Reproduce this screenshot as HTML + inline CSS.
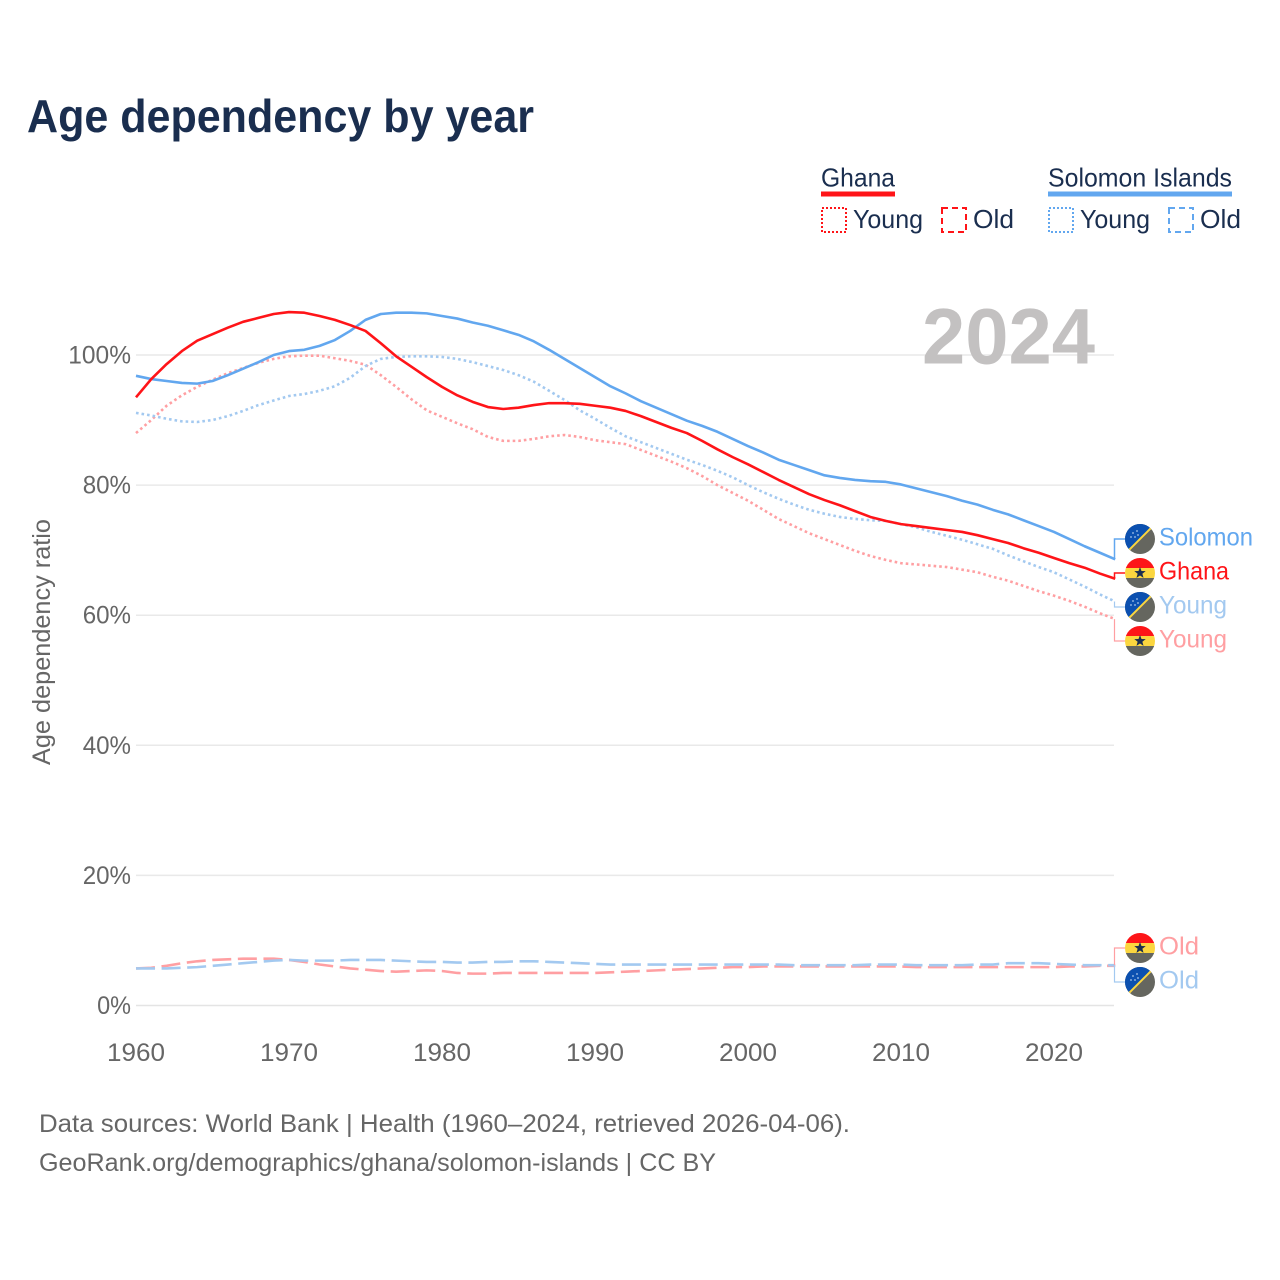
<!DOCTYPE html>
<html lang="en">
<head>
<meta charset="utf-8">
<title>Age dependency by year</title>
<style>
html,body{margin:0;padding:0;background:#fff;}
svg{display:block;font-family:"Liberation Sans",sans-serif;}
</style>
</head>
<body>
<svg id="chart" xmlns="http://www.w3.org/2000/svg" width="1280" height="1280" viewBox="0 0 1280 1280">
<rect width="1280" height="1280" fill="#fff"/>
<text x="27" y="132" font-size="46" font-weight="700" fill="#1a2e4f" textLength="507" lengthAdjust="spacingAndGlyphs">Age dependency by year</text>

<g font-size="26" fill="#1a2e4f">
<text x="821" y="186.5" textLength="74" lengthAdjust="spacingAndGlyphs">Ghana</text>
<rect x="821" y="191.5" width="74" height="5" fill="#ff1418"/>
<rect x="822" y="208" width="24" height="24" fill="none" stroke="#ff1418" stroke-width="2" stroke-dasharray="2 2"/>
<text x="853" y="228" textLength="70" lengthAdjust="spacingAndGlyphs">Young</text>
<rect x="942" y="208" width="24" height="24" fill="none" stroke="#ff1418" stroke-width="2" stroke-dasharray="6 4"/>
<text x="973" y="228" textLength="41" lengthAdjust="spacingAndGlyphs">Old</text>
<text x="1048" y="186.5" textLength="184" lengthAdjust="spacingAndGlyphs">Solomon Islands</text>
<rect x="1048" y="191.5" width="184" height="5" fill="#62a7ef"/>
<rect x="1049" y="208" width="24" height="24" fill="none" stroke="#62a7ef" stroke-width="2" stroke-dasharray="2 2"/>
<text x="1080" y="228" textLength="70" lengthAdjust="spacingAndGlyphs">Young</text>
<rect x="1169" y="208" width="24" height="24" fill="none" stroke="#62a7ef" stroke-width="2" stroke-dasharray="6 4"/>
<text x="1200" y="228" textLength="41" lengthAdjust="spacingAndGlyphs">Old</text>
</g>

<g id="grid"></g>
<text x="922" y="363.5" font-size="79" font-weight="700" fill="#c3c1c1" textLength="173" lengthAdjust="spacingAndGlyphs">2024</text>
<g id="yticks"></g>
<g id="xticks"></g>
<text transform="translate(50,765) rotate(-90)" font-size="25" fill="#666" textLength="246" lengthAdjust="spacingAndGlyphs">Age dependency ratio</text>
<g id="series"></g>
<g id="labels"></g>

<g font-size="25" fill="#666">
<text x="39" y="1132" textLength="811" lengthAdjust="spacingAndGlyphs">Data sources: World Bank | Health (1960–2024, retrieved 2026-04-06).</text>
<text x="39" y="1171" textLength="677" lengthAdjust="spacingAndGlyphs">GeoRank.org/demographics/ghana/solomon-islands | CC BY</text>
</g>
</svg>
<script>
const yearStart = 1960;
const xTickYears = [1960, 1970, 1980, 1990, 2000, 2010, 2020];
const xTickLabels = ["1960", "1970", "1980", "1990", "2000", "2010", "2020"];
const yTickValues = [0, 20, 40, 60, 80, 100];
const yTickLabels = ["0%", "20%", "40%", "60%", "80%", "100%"];

const ghanaTotal = [93.5,96.3,98.6,100.6,102.2,103.2,104.2,105.1,105.7,106.3,106.6,106.5,106.0,105.4,104.6,103.7,101.8,99.8,98.2,96.6,95.1,93.8,92.8,92.0,91.7,91.9,92.3,92.6,92.6,92.5,92.2,91.9,91.4,90.6,89.7,88.8,88.0,86.8,85.5,84.3,83.2,82.0,80.8,79.7,78.6,77.7,76.9,76.0,75.1,74.5,74.0,73.7,73.4,73.1,72.8,72.3,71.7,71.1,70.3,69.6,68.8,68.0,67.3,66.4,65.6];
const solomonTotal = [96.8,96.3,96.0,95.7,95.6,96.0,96.9,97.9,98.9,100.0,100.6,100.8,101.4,102.3,103.7,105.4,106.3,106.5,106.5,106.4,106.0,105.6,105.0,104.5,103.8,103.1,102.1,100.8,99.4,98.0,96.6,95.2,94.1,92.9,91.9,90.9,89.9,89.1,88.2,87.1,86.0,85.0,83.9,83.1,82.3,81.5,81.1,80.8,80.6,80.5,80.1,79.5,78.9,78.3,77.6,77.0,76.2,75.5,74.6,73.7,72.8,71.7,70.6,69.6,68.6];
const ghanaYoung = [88.0,90.0,92.2,93.8,95.1,96.2,97.2,98.0,98.8,99.4,99.8,99.9,99.9,99.5,99.1,98.5,96.9,95.1,93.2,91.5,90.5,89.5,88.6,87.4,86.8,86.8,87.1,87.5,87.7,87.4,86.9,86.6,86.3,85.4,84.5,83.6,82.6,81.4,80.0,78.8,77.6,76.2,74.8,73.7,72.6,71.7,70.8,69.9,69.1,68.5,68.0,67.8,67.6,67.4,67.0,66.6,65.9,65.3,64.5,63.7,63.0,62.2,61.3,60.3,59.4];
const solomonYoung = [91.1,90.7,90.2,89.8,89.7,90.0,90.6,91.4,92.3,93.0,93.7,94.0,94.5,95.2,96.5,98.3,99.4,99.7,99.8,99.8,99.7,99.4,98.9,98.3,97.7,96.9,95.9,94.5,93.1,91.5,90.2,88.8,87.5,86.6,85.7,84.8,83.9,83.1,82.2,81.2,80.0,78.9,77.9,77.0,76.2,75.6,75.1,74.8,74.6,74.5,74.0,73.5,72.8,72.2,71.6,70.9,70.2,69.2,68.3,67.4,66.6,65.5,64.4,63.2,62.1];
const ghanaOld = [5.7,5.8,6.1,6.5,6.8,7.0,7.1,7.2,7.2,7.2,7.0,6.7,6.3,6.0,5.7,5.5,5.3,5.2,5.3,5.4,5.3,5.0,4.9,4.9,5.0,5.0,5.0,5.0,5.0,5.0,5.0,5.1,5.2,5.3,5.4,5.5,5.6,5.7,5.8,5.9,5.9,6.0,6.0,6.0,6.0,6.0,6.0,6.0,6.0,6.0,6.0,5.9,5.9,5.9,5.9,5.9,5.9,5.9,5.9,5.9,5.9,6.0,6.0,6.1,6.1];
const solomonOld = [5.7,5.7,5.7,5.8,5.9,6.1,6.3,6.5,6.7,6.9,7.0,6.9,6.9,6.9,7.0,7.0,7.0,6.9,6.8,6.7,6.7,6.6,6.6,6.7,6.7,6.8,6.8,6.7,6.6,6.5,6.4,6.3,6.3,6.3,6.3,6.3,6.3,6.3,6.3,6.3,6.3,6.3,6.3,6.2,6.2,6.2,6.2,6.2,6.3,6.3,6.3,6.2,6.2,6.2,6.2,6.3,6.3,6.5,6.5,6.5,6.4,6.3,6.2,6.2,6.2];

const SVG_NS = "http://www.w3.org/2000/svg";
const xScale = function (year) { return 136 + (year - 1960) * 15.3; };
const yScale = function (value) { return 1005.5 - value * 6.505; };

function make(tag, attrs, parent) {
  const el = document.createElementNS(SVG_NS, tag);
  Object.keys(attrs).forEach(function (k) { el.setAttribute(k, attrs[k]); });
  parent.appendChild(el);
  return el;
}

const gridGroup = document.getElementById("grid");
const yTickGroup = document.getElementById("yticks");
yTickValues.forEach(function (v, i) {
  const line = make("line", {x1: 136, x2: 1114, y1: yScale(v), y2: yScale(v), stroke: v === 0 ? "#e4e4e4" : "#e9e9e9", "stroke-width": 1.5}, gridGroup);
  
  
  const label = yTickLabels[i];
  const w = (label.length - 1) * 14.4 + 19.5;
  const t = make("text", {x: 131, y: yScale(v) + 8.5, "text-anchor": "end", "font-size": 25, fill: "#666", textLength: w, lengthAdjust: "spacingAndGlyphs"}, yTickGroup);
  
  
  t.textContent = label;
});

const xTickGroup = document.getElementById("xticks");
xTickYears.forEach(function (yr, i) {
  const t = make("text", {x: xScale(yr), y: 1061, "text-anchor": "middle", "font-size": 25, fill: "#666", textLength: 58, lengthAdjust: "spacingAndGlyphs"}, xTickGroup);
  
  
  t.textContent = xTickLabels[i];
});

function pathFrom(values) {
  return values.map(function (v, i) {
    return (i ? "L" : "M") + xScale(yearStart + i).toFixed(1) + " " + yScale(v).toFixed(2);
  }).join(" ");
}

const seriesGroup = document.getElementById("series");
function drawSeries(values, color, width, dash, name) {
  const p = make("path", {d: pathFrom(values), fill: "none", stroke: color, "stroke-width": width, "stroke-linejoin": "round"}, seriesGroup);
  if (dash) p.setAttribute("stroke-dasharray", dash);
  
  
}
const RED = "#ff1418", BLUE = "#62a7ef", LRED = "#ff9fa2", LBLUE = "#a3c9f0";
drawSeries(ghanaOld, LRED, 2.6, "19 6.6", "line-ghana-old");
drawSeries(solomonOld, LBLUE, 2.6, "19 6.6", "line-solomon-old");
drawSeries(ghanaYoung, LRED, 2.6, "2.6 3", "line-ghana-young");
drawSeries(solomonYoung, LBLUE, 2.6, "2.6 3", "line-solomon-young");
drawSeries(solomonTotal, BLUE, 2.6, null, "line-solomon-total");
drawSeries(ghanaTotal, RED, 2.6, null, "line-ghana-total");

const labelGroup = document.getElementById("labels");
function ghanaFlag(g, cy) {
  const cx = 1140, r = 15;
  const id = "clip" + cy;
  const cp = make("clipPath", {id: id}, g);
  make("circle", {cx: cx, cy: cy, r: r}, cp);
  const f = make("g", {"clip-path": "url(#" + id + ")"}, g);
  make("rect", {x: cx - r, y: cy - r, width: 30, height: 10, fill: "#fd1518"}, f);
  make("rect", {x: cx - r, y: cy - 5, width: 30, height: 10, fill: "#fbd63f"}, f);
  make("rect", {x: cx - r, y: cy + 5, width: 30, height: 10, fill: "#65665f"}, f);
  const s = [];
  for (let i = 0; i < 10; i++) {
    const a = -Math.PI / 2 + i * Math.PI / 5, q = i % 2 ? 2.5 : 6;
    s.push((cx + q * Math.cos(a)).toFixed(2) + "," + (cy + q * Math.sin(a)).toFixed(2));
  }
  make("polygon", {points: s.join(" "), fill: "#1a2e4f"}, f);
}
function solomonFlag(g, cy) {
  const cx = 1140, r = 15;
  const id = "clip" + cy;
  const cp = make("clipPath", {id: id}, g);
  make("circle", {cx: cx, cy: cy, r: r}, cp);
  const f = make("g", {"clip-path": "url(#" + id + ")"}, g);
  make("rect", {x: cx - r, y: cy - r, width: 30, height: 30, fill: "#65665f"}, f);
  make("polygon", {points: (cx - r) + "," + (cy - r) + " " + (cx + r) + "," + (cy - r) + " " + (cx - r) + "," + (cy + r), fill: "#0b50b0"}, f);
  make("line", {x1: cx - r, y1: cy + r, x2: cx + r, y2: cy - r, stroke: "#fbd63f", "stroke-width": 2}, f);
  [[-7,-6],[-3,-8],[-9,-2],[-5,-2],[-2,-4]].forEach(function (o) {
    make("circle", {cx: cx + o[0], cy: cy + o[1], r: 0.9, fill: "#a9c6ea"}, f);
  });
}
function drawLabel(text, values, color, stroke, flag, cy, width, name) {
  const g = make("g", {}, labelGroup);
  
  
  const endY = yScale(values[values.length - 1]);
  make("polyline", {points: "1114.5," + endY.toFixed(2) + " 1114.5," + cy + " 1125," + cy, fill: "none", stroke: color, "stroke-width": stroke}, g);
  flag(g, cy);
  const t = make("text", {x: 1159, y: cy + 6.5, "font-size": 25, fill: color, textLength: width, lengthAdjust: "spacingAndGlyphs"}, g);
  t.textContent = text;
}
drawLabel("Solomon", solomonTotal, BLUE, 1.5, solomonFlag, 539, 94, "end-label-solomon-total");
drawLabel("Ghana", ghanaTotal, RED, 1.5, ghanaFlag, 573, 70, "end-label-ghana-total");
drawLabel("Young", solomonYoung, LBLUE, 1.2, solomonFlag, 607, 68, "end-label-solomon-young");
drawLabel("Young", ghanaYoung, LRED, 1.2, ghanaFlag, 641, 68, "end-label-ghana-young");
drawLabel("Old", ghanaOld, LRED, 1.2, ghanaFlag, 948, 40, "end-label-ghana-old");
drawLabel("Old", solomonOld, LBLUE, 1.2, solomonFlag, 982, 40, "end-label-solomon-old");
</script>
</body>
</html>
